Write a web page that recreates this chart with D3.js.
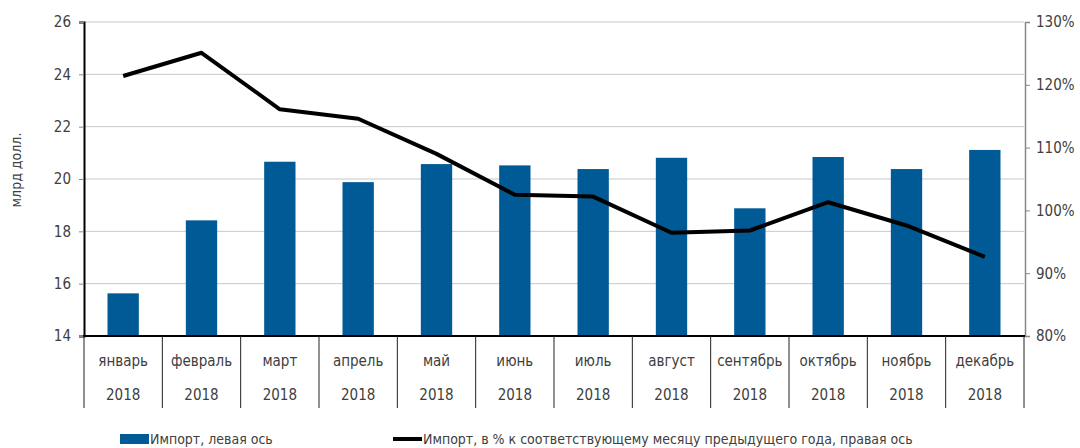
<!DOCTYPE html>
<html>
<head>
<meta charset="utf-8">
<script src="https://cdn.jsdelivr.net/npm/d3@7"></script>
<style>
  body { margin: 0; background: #fff; }
  text { font-family: "Liberation Sans Narrow", "DejaVu Sans Condensed", sans-serif; fill: #404040; }
</style>
</head>
<body>
<svg class="chart" width="1080" height="448"></svg>
<script>
// months, year row, bars (left axis) and line (right axis)
var months = ["январь", "февраль", "март", "апрель", "май", "июнь",
              "июль", "август", "сентябрь", "октябрь", "ноябрь", "декабрь"];
var years = ["2018", "2018", "2018", "2018", "2018", "2018",
             "2018", "2018", "2018", "2018", "2018", "2018"];
var importBn = [15.63, 18.42, 20.66, 19.88, 20.57, 20.52, 20.38, 20.81, 18.88, 20.84, 20.38, 21.11];
var importPct = [121.4, 125.1, 116.1, 114.6, 109.0, 102.5, 102.2, 96.45, 96.8, 101.3, 97.6, 92.6];
var leftTicks = [14, 16, 18, 20, 22, 24, 26];
var rightTicks = [80, 90, 100, 110, 120, 130];
var legendLabels = ["Импорт, левая ось", "Импорт, в % к соответствующему месяцу предыдущего года, правая ось"];

var svg = d3.select(".chart");
var x0 = 84, x1 = 1024, yTop = 22, yBot = 336;
var blue = "#005a96";

var x = d3.scaleBand().domain(months).range([x0, x1]).paddingInner(0).paddingOuter(0);
var yL = d3.scaleLinear().domain([14, 26]).range([yBot, yTop]);
var yR = d3.scaleLinear().domain([80, 130]).range([yBot, yTop]);

// gridlines
svg.append("g").selectAll("line")
  .data(leftTicks.slice(1))
  .enter().append("line")
  .attr("x1", x0).attr("x2", x1)
  .attr("y1", d => yL(d)).attr("y2", d => yL(d))
  .attr("stroke", "#c8c8c8").attr("stroke-width", 1);

// bars
var bw = x.bandwidth() * 0.4;
svg.append("g").selectAll("rect")
  .data(importBn)
  .enter().append("rect")
  .attr("x", (d, i) => x(months[i]) + x.bandwidth() / 2 - bw / 2)
  .attr("y", d => yL(d))
  .attr("width", bw)
  .attr("height", d => yBot - yL(d))
  .attr("fill", blue);

// line
var line = d3.line()
  .x((d, i) => x(months[i]) + x.bandwidth() / 2)
  .y(d => yR(d));
svg.append("path")
  .datum(importPct)
  .attr("d", line)
  .attr("fill", "none")
  .attr("stroke", "#000")
  .attr("stroke-width", 4)
  .attr("stroke-linejoin", "round");

// left axis
var axL = svg.append("g").attr("transform", "translate(" + x0 + ",0)")
  .call(d3.axisLeft(yL).tickValues(leftTicks).tickSize(5).tickPadding(8));
axL.select(".domain").attr("stroke", "#000").attr("stroke-width", 2);
axL.selectAll(".tick line").attr("stroke", "#888");
axL.selectAll(".tick text").style("font-size", "15px").attr("fill", "#404040");

// right axis
var axR = svg.append("g").attr("transform", "translate(" + (x1 + 1) + ",0)")
  .call(d3.axisRight(yR).tickValues(rightTicks).tickSize(5).tickPadding(6).tickFormat(d => d + "%"));
axR.select(".domain").attr("stroke", "#888").attr("stroke-width", 1.5);
axR.selectAll(".tick line").attr("stroke", "#888");
axR.selectAll(".tick text").style("font-size", "15px").attr("fill", "#404040");

// bottom axis line
svg.append("line")
  .attr("x1", x0 - 1).attr("x2", x1 + 1)
  .attr("y1", yBot).attr("y2", yBot)
  .attr("stroke", "#000").attr("stroke-width", 2);

// category separators
var seps = months.map(m => x(m)).concat([x1]);
svg.append("g").selectAll("line")
  .data(seps)
  .enter().append("line")
  .attr("x1", d => d).attr("x2", d => d)
  .attr("y1", yBot).attr("y2", 408)
  .attr("stroke", "#222").attr("stroke-width", 1);

// month + year labels
svg.append("g").selectAll("text")
  .data(months)
  .enter().append("text")
  .attr("x", d => x(d) + x.bandwidth() / 2)
  .attr("y", 366)
  .attr("text-anchor", "middle")
  .style("font-size", "15px")
  .text(d => d);
svg.append("g").selectAll("text")
  .data(years)
  .enter().append("text")
  .attr("x", (d, i) => x(months[i]) + x.bandwidth() / 2)
  .attr("y", 400)
  .attr("text-anchor", "middle")
  .style("font-size", "15px")
  .text(d => d);

// y axis title
svg.append("text")
  .attr("transform", "translate(21,170) rotate(-90)")
  .attr("text-anchor", "middle")
  .style("font-size", "14px")
  .text("млрд долл.");

// legend
svg.append("rect").attr("x", 120).attr("y", 434).attr("width", 29).attr("height", 10).attr("fill", blue);
svg.append("text").attr("x", 150).attr("y", 444).style("font-size", "14px").text(legendLabels[0]);
svg.append("line").attr("x1", 393).attr("x2", 422).attr("y1", 439).attr("y2", 439)
  .attr("stroke", "#000").attr("stroke-width", 4);
svg.append("text").attr("x", 423).attr("y", 444).style("font-size", "14px").text(legendLabels[1]);
</script>
</body>
</html>
